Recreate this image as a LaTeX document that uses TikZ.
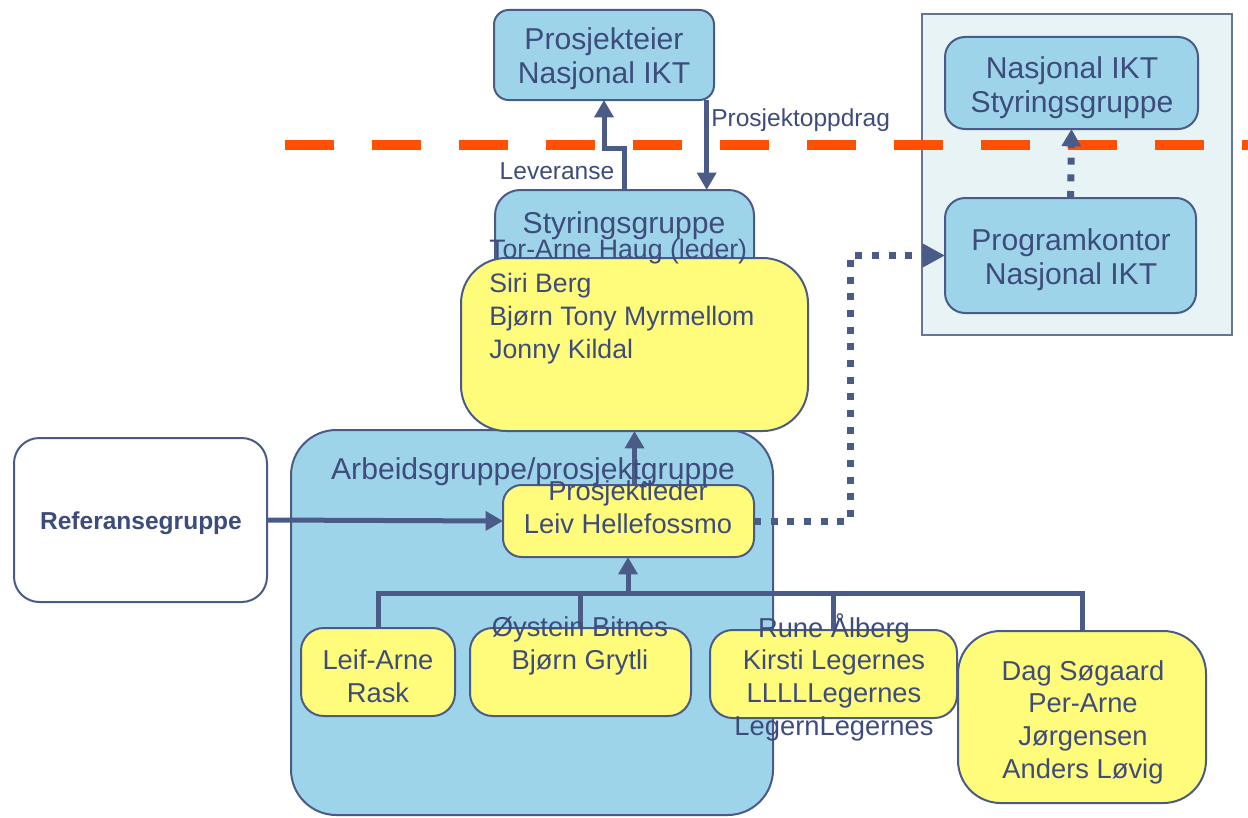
\documentclass[tikz,border=0pt]{standalone}
\usepackage{fontspec}
\setmainfont{Liberation Sans}
\usetikzlibrary{arrows.meta}
\definecolor{edgec}{HTML}{4A5B87}
\definecolor{txtc}{HTML}{3E4C7C}
\definecolor{bluef}{HTML}{9DD4EA}
\definecolor{yellowf}{HTML}{FFFC7C}
\definecolor{orangec}{HTML}{FF5000}
\definecolor{panelf}{HTML}{E7F3F4}
\newcommand\boxat[6]{\node[#6, minimum width={(#4-#2)*0.75pt}, minimum height={(#5-#3)*0.75pt}] (#1) at ({(#2+#4)/2},{(#3+#5)/2}) {};}
\tikzset{
  shapebox/.style={draw=edgec, line width=1.5pt, inner sep=0pt, outer sep=0pt, rectangle},
  bluebox/.style={shapebox, fill=bluef},
  yellowbox/.style={shapebox, fill=yellowf},
  whitebox/.style={shapebox, fill=white},
  panelbox/.style={draw=edgec!85, line width=1.2pt, fill=panelf, inner sep=0pt, outer sep=0pt, rectangle},
  txt/.style={text=txtc, inner sep=0pt, align=center},
  bigf/.style={font=\fontsize{22.6}{25.5}\selectfont},
  midf/.style={font=\fontsize{20.5}{24.5}\selectfont},
  memf/.style={font=\fontsize{20}{25}\selectfont},
  smallf/.style={font=\fontsize{18.4}{22}\selectfont},
  conn/.style={draw=edgec, line width=3.75pt},
  tip/.style={-{Triangle[length=13pt,width=14pt]}},
  bigtip/.style={-{Triangle[length=17pt,width=17pt]}},
  dotconn/.style={draw=edgec, line width=5.25pt, dash pattern=on 5.25pt off 7.25pt},
  orangeline/.style={draw=orangec, line width=7.5pt, dash pattern=on 36.75pt off 28.5pt}
}
\begin{document}
\begin{tikzpicture}[x=0.75pt,y=-0.75pt]
\useasboundingbox (0,0) rectangle (1248,817);
% right panel
\node[panelbox, minimum width={310*0.75pt}, minimum height={321*0.75pt}] (panel) at (1077,174.5) {};
\boxat{nis}{945}{37}{1198}{129}{bluebox, rounded corners=15pt}
\boxat{pk}{945}{198}{1196}{313}{bluebox, rounded corners=15pt}
% top
\boxat{pe}{494}{10}{714}{100}{bluebox, rounded corners=11pt}
\boxat{styr}{495}{190}{754}{300}{bluebox, rounded corners=19pt}
% working group
\boxat{arb}{291}{430}{773}{815}{bluebox, rounded corners=34pt}
\boxat{sgm}{461}{258}{808}{431}{yellowbox, rounded corners=34pt}
\boxat{pl}{503}{485}{754}{557}{yellowbox, rounded corners=14pt}
\boxat{ref}{14}{438}{267}{602}{whitebox, rounded corners=19pt}
\boxat{la}{301}{628}{455}{716}{yellowbox, rounded corners=17pt}
\boxat{og}{470}{628}{691}{716}{yellowbox, rounded corners=17pt}
\boxat{rune}{710}{630}{957}{718}{yellowbox, rounded corners=17pt}
\boxat{dag}{958}{631}{1206}{803}{yellowbox, rounded corners=32pt}
% orange boundary line
\coordinate (ol) at (285,145);
\coordinate (or) at (1248,145);
\draw[orangeline] (ol) -- (or);
% connectors
\draw[conn, tip] (styr.north) -- ++(0,-42) -| (pe.south);
\draw[conn, tip] ([xshift=-5.5pt]pe.south east) -- ([xshift=-5.5pt]pe.south east |- styr.north);
\draw[conn, tip] (pl.north -| sgm.south) -- (sgm.south);
\draw[conn, tip] (ref.east) -- (pl.west);
\coordinate (bus) at (628,593);
\draw[conn] (la.north) -- (la.north |- bus) -- (dag.north |- bus) -- (dag.north);
\draw[conn] (og.north) -- (og.north |- bus);
\draw[conn] (rune.north) -- (rune.north |- bus);
\draw[conn, tip] (bus) -- (bus |- pl.south);
\draw[dotconn, bigtip] (pl.east) -- ++(96,0) |- (pk.west);
\draw[dotconn, tip] (pk.north) -- (nis.south);
% texts
\node[txt, bigf] (pe-t) at (604,59) {Prosjekteier\\Nasjonal IKT};
\node[txt, bigf] (nis-t) at (1072,88) {Nasjonal IKT\\Styringsgruppe};
\node[txt, bigf] (pk-t) at (1071,260) {Programkontor\\Nasjonal IKT};
\node[txt, bigf] (styr-t) at (624,226) {Styringsgruppe};
\node[txt, memf, align=left, anchor=west] (sgm-t) at (489,302) {Tor-Arne Haug (leder)\\Siri Berg\\Bjørn Tony Myrmellom\\Jonny Kildal};
\node[txt, bigf] (arb-t) at (533,472) {Arbeidsgruppe/prosjektgruppe};
\node[txt, midf] (pl-t) at (628,507) {Prosjektleder\\Leiv Hellefossmo};
\node[txt, smallf, font=\bfseries\fontsize{18.4}{22}\selectfont] (ref-t) at (141,523) {Referansegruppe};
\node[txt, midf] (la-t) at (378,676) {Leif-Arne\\Rask};
\node[txt, midf] (og-t) at (580,646) {Øystein Bitnes\\Bjørn Grytli};
\node[txt, midf] (rune-t) at (834,677) {Rune Ålberg\\Kirsti Legernes\\LLLLLegernes\\LegernLegernes};
\node[txt, midf] (dag-t) at (1083,722) {Dag Søgaard\\Per-Arne\\Jørgensen\\Anders Løvig};
\node[txt, smallf] (lev-t) at (557,171) {Leveranse};
\node[txt, smallf, anchor=west] (po-t) at (711,120) {Prosjektoppdrag};
\end{tikzpicture}
\end{document}
